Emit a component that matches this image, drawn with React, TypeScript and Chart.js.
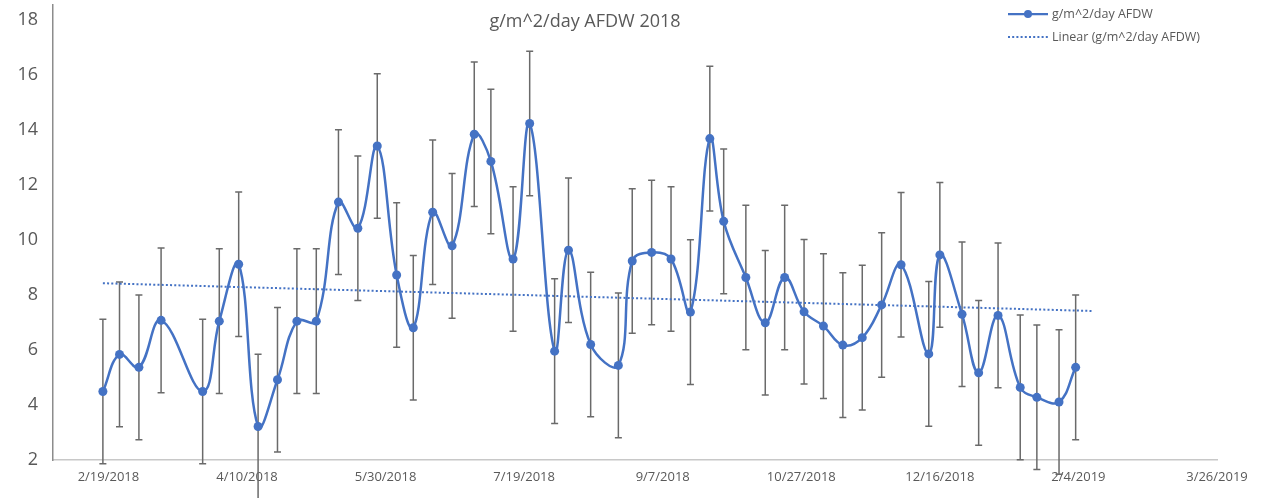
import React, { useEffect, useRef } from "react";
import { Chart, registerables } from "chart.js";

Chart.register(...registerables);

// ---- data ----
const sampleDates = [
  "2018-02-17", "2018-02-23", "2018-03-02", "2018-03-10", "2018-03-25", "2018-03-31", "2018-04-07",
  "2018-04-14", "2018-04-21", "2018-04-28", "2018-05-05", "2018-05-13", "2018-05-20", "2018-05-27",
  "2018-06-03", "2018-06-09", "2018-06-16", "2018-06-23", "2018-07-01", "2018-07-07", "2018-07-15",
  "2018-07-21", "2018-07-30", "2018-08-04", "2018-08-12", "2018-08-22", "2018-08-27", "2018-09-03",
  "2018-09-10", "2018-09-17", "2018-09-24", "2018-09-29", "2018-10-07", "2018-10-14", "2018-10-21",
  "2018-10-28", "2018-11-04", "2018-11-11", "2018-11-18", "2018-11-25", "2018-12-02", "2018-12-12",
  "2018-12-16", "2018-12-24", "2018-12-30", "2019-01-06", "2019-01-14", "2019-01-20", "2019-01-28",
  "2019-02-03",
];
const afdwValues = [
  4.49, 5.84, 5.37, 7.08, 4.49, 7.05, 9.12,
  3.22, 4.92, 7.05, 7.05, 11.38, 10.43, 13.42,
  8.73, 6.81, 11.01, 9.79, 13.85, 12.86, 9.31,
  14.24, 5.96, 9.63, 6.2, 5.44, 9.24, 9.55,
  9.31, 7.38, 13.69, 10.68, 8.64, 6.99, 8.64,
  7.39, 6.87, 6.18, 6.45, 7.64, 9.1, 5.86,
  9.46, 7.3, 5.17, 7.26, 4.64, 4.28, 4.11,
  5.37,
];
const errorAmount = 2.63;
const trendDates = ["2018-02-17", "2019-02-09"];
const trendValues = [8.43, 7.42];
const xTickDates = [
  "2018-02-19", "2018-04-10", "2018-05-30", "2018-07-19", "2018-09-07",
  "2018-10-27", "2018-12-16", "2019-02-04", "2019-03-26",
];
const yTickValues = [2, 4, 6, 8, 10, 12, 14, 16, 18];
const xRange = ["2018-01-30", "2019-03-26"];
const yRange = [2, 18.55];
const titleText = "g/m^2/day AFDW 2018";
const seriesName = "g/m^2/day AFDW";
const trendName = "Linear (g/m^2/day AFDW)";

const BLUE = "#4472C4";
const TEXT = "#595959";
const FONT = "'Open Sans', 'Noto Sans', sans-serif";

function dayNum(s: string): number {
  const [y, m, d] = s.split("-").map(Number);
  return Date.UTC(y, m - 1, d) / 864e5;
}
function fmtDay(v: number): string {
  const dt = new Date(Math.round(v) * 864e5);
  return `${dt.getUTCMonth() + 1}/${dt.getUTCDate()}/${dt.getUTCFullYear()}`;
}

const errorBarPlugin = {
  id: "errorBars",
  beforeDatasetsDraw(chart: any) {
    const { ctx } = chart;
    const x = chart.scales.x;
    const y = chart.scales.y;
    ctx.save();
    ctx.strokeStyle = "#6a6a6a";
    ctx.lineWidth = 1.5;
    sampleDates.forEach((d, i) => {
      const px = x.getPixelForValue(dayNum(d));
      const top = y.getPixelForValue(afdwValues[i] + errorAmount);
      const bot = y.getPixelForValue(afdwValues[i] - errorAmount);
      ctx.beginPath();
      ctx.moveTo(px, top);
      ctx.lineTo(px, bot);
      ctx.moveTo(px - 3.5, top);
      ctx.lineTo(px + 3.5, top);
      ctx.moveTo(px - 3.5, bot);
      ctx.lineTo(px + 3.5, bot);
      ctx.stroke();
    });
    ctx.restore();
  },
};

const titleLegendPlugin = {
  id: "titleLegend",
  afterDraw(chart: any) {
    const { ctx } = chart;
    ctx.save();
    // title
    ctx.fillStyle = TEXT;
    ctx.font = `18px ${FONT}`;
    ctx.textAlign = "center";
    ctx.textBaseline = "middle";
    ctx.fillText(titleText, 585, 22);

    // legend
    const lx0 = 1008, lx1 = 1048, tx = 1052;
    const r1 = 14, r2 = 37;
    ctx.strokeStyle = BLUE;
    ctx.lineWidth = 2.25;
    ctx.beginPath();
    ctx.moveTo(lx0, r1);
    ctx.lineTo(lx1, r1);
    ctx.stroke();
    ctx.fillStyle = BLUE;
    ctx.beginPath();
    ctx.arc((lx0 + lx1) / 2, r1, 4, 0, Math.PI * 2);
    ctx.fill();

    ctx.lineWidth = 2;
    ctx.setLineDash([2, 2.2]);
    ctx.beginPath();
    ctx.moveTo(lx0, r2);
    ctx.lineTo(lx1, r2);
    ctx.stroke();
    ctx.setLineDash([]);

    ctx.fillStyle = TEXT;
    ctx.font = `12.5px ${FONT}`;
    ctx.textAlign = "left";
    ctx.fillText(seriesName, tx, r1);
    ctx.fillText(trendName, tx, r2);
    ctx.restore();
  },
};

export default function App() {
  const ref = useRef<HTMLCanvasElement | null>(null);

  useEffect(() => {
    if (!ref.current) return;
    Chart.defaults.font.family = FONT;
    const chart = new Chart(ref.current, {
      type: "line",
      data: {
        datasets: [
          {
            label: seriesName,
            data: sampleDates.map((d, i) => ({ x: dayNum(d), y: afdwValues[i] })),
            borderColor: BLUE,
            backgroundColor: BLUE,
            borderWidth: 2.5,
            pointRadius: 4.5,
            pointBackgroundColor: BLUE,
            pointBorderWidth: 0,
            tension: 0.4,
            clip: false as any,
          },
          {
            label: trendName,
            data: trendDates.map((d, i) => ({ x: dayNum(d), y: trendValues[i] })),
            borderColor: BLUE,
            borderWidth: 2,
            borderDash: [2, 2.2],
            pointRadius: 0,
            tension: 0,
          },
        ],
      },
      options: {
        animation: false,
        responsive: false,
        devicePixelRatio: 1,
        layout: { padding: { top: 5, right: 47, left: 0, bottom: 0 } },
        plugins: {
          legend: { display: false },
          title: { display: false },
          tooltip: { enabled: false },
        },
        scales: {
          x: {
            type: "linear",
            min: dayNum(xRange[0]),
            max: dayNum(xRange[1]),
            afterBuildTicks: (scale: any) => {
              scale.ticks = xTickDates.map((d) => ({ value: dayNum(d) }));
            },
            afterFit: (scale: any) => {
              scale.height = 38;
              scale.paddingLeft = 0;
              scale.paddingRight = 0;
            },
            grid: { display: false, drawTicks: false },
            border: { display: true, color: "#c8c8c8", width: 1.5 },
            ticks: {
              callback: (v: any) => fmtDay(Number(v)),
              color: TEXT,
              font: { size: 13, family: FONT },
              padding: 9,
              maxRotation: 0,
              autoSkip: false,
            },
          },
          y: {
            type: "linear",
            min: yRange[0],
            max: yRange[1],
            afterBuildTicks: (scale: any) => {
              scale.ticks = yTickValues.map((v) => ({ value: v }));
            },
            afterFit: (scale: any) => {
              scale.width = 53;
              scale.paddingTop = 0;
              scale.paddingBottom = 0;
            },
            grid: { display: false, drawTicks: false },
            border: { display: true, color: "#8c8c8c", width: 1.5 },
            ticks: {
              color: TEXT,
              font: { size: 18, family: FONT },
              padding: 15,
            },
          },
        },
      },
      plugins: [errorBarPlugin, titleLegendPlugin],
    });
    return () => chart.destroy();
  }, []);

  return (
    <div style={{ position: "absolute", left: 0, top: 0, width: 1264, height: 498, background: "#fff" }}>
      <canvas ref={ref} width={1264} height={498} style={{ display: "block" }} />
    </div>
  );
}
